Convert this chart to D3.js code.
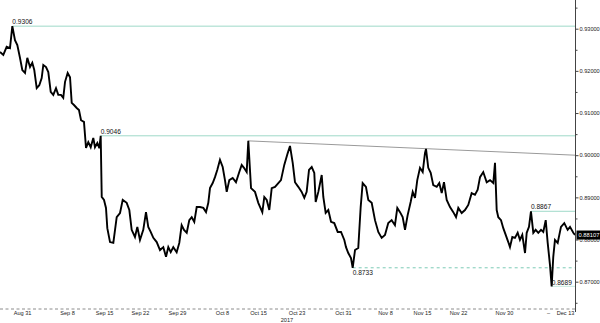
<!DOCTYPE html>
<html>
<head>
<meta charset="utf-8">
<script src="https://cdn.jsdelivr.net/npm/d3@7"></script>
<style>
  html, body { margin: 0; padding: 0; background: #fff; }
  svg { display: block; font-family: "Liberation Sans", Arial, sans-serif; }
</style>
</head>
<body>
<div id="grafico"></div>
<script>
// trading-day position (days since Mon Aug 28) and price
const dias = [
  0.00, 0.45, 0.91, 1.36, 1.68, 2.04, 2.36, 2.72, 3.04, 3.41, 3.72, 4.09, 4.40, 4.67, 5.00, 5.35,
  5.68, 5.90, 6.27, 6.58, 6.91, 7.26, 7.63, 7.94, 8.31, 8.62, 8.86, 9.22, 9.54, 9.77, 10.08, 10.45,
  10.76, 11.04, 11.44, 11.72, 12.03, 12.36, 12.71, 12.94, 13.26, 13.53, 13.72, 13.86, 14.17, 14.44,
  14.62, 14.99, 15.44, 15.90, 16.35, 16.72, 17.26, 17.62, 17.94, 18.39, 18.71, 19.07, 19.52, 19.89,
  20.20, 20.53, 20.89, 21.35, 21.80, 22.25, 22.62, 22.93, 23.26, 23.61, 24.07, 24.43, 24.75, 25.07,
  25.44, 25.79, 26.12, 26.47, 26.80, 27.25, 27.70, 28.07, 28.38, 28.61, 28.98, 29.29, 29.60, 29.97,
  30.34, 30.65, 30.89, 31.24, 31.70, 32.15, 32.60, 32.93, 33.24, 33.61, 33.83, 34.20, 34.74, 35.19,
  35.74, 36.01, 36.34, 36.69, 37.02, 37.47, 37.92, 38.28, 38.73, 39.20, 39.51, 39.88, 40.19, 40.64,
  41.10, 41.46, 41.78, 42.10, 42.47, 42.82, 43.01, 43.37, 43.83, 44.05, 44.37, 44.73, 45.10, 45.54,
  46.01, 46.46, 46.91, 47.14, 47.45, 47.82, 48.05, 48.37, 48.81, 49.14, 49.41, 49.86, 50.18, 50.64,
  51.09, 51.54, 52.00, 52.45, 52.90, 53.36, 53.81, 54.13, 54.50, 54.86, 55.18, 55.54, 55.95, 56.23,
  56.54, 56.85, 57.22, 57.59, 57.90, 58.04, 58.35, 58.68, 59.03, 59.50, 59.85, 60.18, 60.49, 60.86,
  61.31, 61.76, 62.13, 62.44, 62.90, 63.35, 63.80, 64.26, 64.71, 65.08, 65.40, 65.84, 66.31, 66.76,
  67.21, 67.44, 67.67, 67.89, 68.26, 68.57, 68.90, 69.25, 69.48, 69.80, 70.16, 70.53, 70.84, 71.16,
  71.53, 71.76, 72.07, 72.34, 72.66, 72.98, 73.34, 73.71, 74.02, 74.35, 74.62, 74.93, 75.16, 75.38,
  75.61, 75.98, 76.43, 76.88, 77.34, 77.66, 78.11, 78.34
];
const precos = [
  0.9245, 0.9238, 0.9257, 0.9254, 0.9306, 0.9273, 0.9261, 0.9231, 0.9202, 0.9195, 0.9231, 0.9209, 0.9219, 0.9202, 0.9159, 0.9166,
  0.9183, 0.9214, 0.9209, 0.9197, 0.9150, 0.9143, 0.9159, 0.9143, 0.9143, 0.9136, 0.9174, 0.9195, 0.9185, 0.9124, 0.9119, 0.9112,
  0.9107, 0.9083, 0.9079, 0.9017, 0.9031, 0.9019, 0.9041, 0.9019, 0.9029, 0.9017, 0.9046, 0.8901, 0.8894, 0.8875,
  0.8827, 0.8794, 0.8792, 0.8853, 0.8863, 0.8894, 0.8887, 0.8870, 0.8823, 0.8806, 0.8830, 0.8799, 0.8823, 0.8865,
  0.8830, 0.8818, 0.8804, 0.8794, 0.8775, 0.8782, 0.8759, 0.8782, 0.8770, 0.8782, 0.8770, 0.8792, 0.8834, 0.8823,
  0.8816, 0.8846, 0.8853, 0.8842, 0.8877, 0.8877, 0.8875, 0.8865, 0.8887, 0.8922, 0.8934, 0.8948, 0.8965, 0.8989,
  0.8972, 0.8941, 0.8913, 0.8941, 0.8946, 0.8936, 0.8960, 0.8977, 0.8970, 0.8960, 0.9034, 0.8922, 0.8913, 0.8887,
  0.8865, 0.8901, 0.8894, 0.8870, 0.8922, 0.8925, 0.8934, 0.8941, 0.8977, 0.9005, 0.9022, 0.8982, 0.8936, 0.8925,
  0.8913, 0.8899, 0.8913, 0.8965, 0.8972, 0.8958, 0.8889, 0.8913, 0.8953, 0.8901, 0.8863, 0.8870, 0.8842, 0.8839,
  0.8818, 0.8818, 0.8799, 0.8782, 0.8768, 0.8756, 0.8733, 0.8775, 0.8780, 0.8877, 0.8934, 0.8925, 0.8894, 0.8887,
  0.8846, 0.8818, 0.8804, 0.8811, 0.8839, 0.8846, 0.8834, 0.8875, 0.8865, 0.8853, 0.8823, 0.8858, 0.8889, 0.8913,
  0.8899, 0.8941, 0.8970, 0.8960, 0.9005, 0.9015, 0.8970, 0.8958, 0.8929, 0.8925, 0.8934, 0.8910, 0.8936, 0.8894,
  0.8877, 0.8865, 0.8853, 0.8875, 0.8863, 0.8870, 0.8882, 0.8910, 0.8906, 0.8918, 0.8948, 0.8960, 0.8936, 0.8941,
  0.8934, 0.8982, 0.8870, 0.8853, 0.8846, 0.8827, 0.8811, 0.8794, 0.8782, 0.8806, 0.8804, 0.8816, 0.8799, 0.8811,
  0.8768, 0.8816, 0.8830, 0.8867, 0.8816, 0.8823, 0.8816, 0.8823, 0.8818, 0.8846, 0.8792, 0.8740, 0.8689, 0.8759,
  0.8799, 0.8792, 0.8830, 0.8839, 0.8823, 0.8830, 0.8816, 0.88107
];

// date labels on the bottom axis
const rotulosDatas = ["Aug 31", "Sep 8", "Sep 15", "Sep 22", "Sep 29", "Oct 8", "Oct 15", "Oct 23",
                      "Oct 31", "Nov 8", "Nov 15", "Nov 22", "Nov 30", "\u2013", "Dec 13"];
const diasDatas = [3.0, 9.13, 14.17, 19.07, 24.11, 30.25, 35.15, 40.4, 46.73, 52.45, 57.49, 62.4, 68.66, 74.66, 76.98];
const rotuloAno = "2017";
const diaAno = 39.1;

// price axis
const ticksPreco = [0.87, 0.88, 0.89, 0.90, 0.91, 0.92, 0.93];
const ticksMenores = [0.865, 0.875, 0.885, 0.895, 0.905, 0.915, 0.925, 0.935];
const ultimoPreco = 0.88107;

// marked highs and lows: value and day where the level starts
const maximos = [0.9306, 0.9046, 0.8867];
const diasMaximos = [1.68, 13.72, 72.34];
const minimos = [0.8733, 0.8689];
const diasMinimos = [48.05, 75.16];

// falling trendline from the October high
const tendenciaDias = [33.83, 78.34];
const tendenciaPrecos = [0.9034, 0.9000];

const largura = 600, altura = 323;
const margem = {top: 0, right: 25, bottom: 15, left: 0};

const svg = d3.select("#grafico").append("svg")
    .attr("width", largura)
    .attr("height", altura);

const eixoX = d3.scaleLinear().domain([0, 78.34]).range([margem.left, largura - margem.right]);
const eixoY = d3.scaleLinear().domain([0.87, 0.93]).range([281.7, 28.7]);
const baseY = altura - margem.bottom + 1;

// level lines for highs
maximos.forEach((v, i) => {
    svg.append("line")
        .attr("x1", eixoX(diasMaximos[i])).attr("x2", eixoX.range()[1])
        .attr("y1", eixoY(v)).attr("y2", eixoY(v))
        .attr("stroke", "#9fd9c8").attr("stroke-width", 1);
    svg.append("text")
        .attr("x", eixoX(diasMaximos[i])).attr("y", eixoY(v) - 2)
        .attr("font-size", 6.6).attr("fill", "#111")
        .text(v.toFixed(4));
});

// lows: first one dashed with label below, second one with label above
minimos.forEach((v, i) => {
    svg.append("line")
        .attr("x1", eixoX(diasMinimos[i])).attr("x2", eixoX.range()[1])
        .attr("y1", eixoY(v)).attr("y2", eixoY(v))
        .attr("stroke", i === 0 ? "#7ccbb6" : "#c4e8de")
        .attr("stroke-width", 1)
        .attr("stroke-dasharray", i === 0 ? "3,3" : null);
    svg.append("text")
        .attr("x", eixoX(diasMinimos[i])).attr("y", i === 0 ? eixoY(v) + 7 : eixoY(v) - 1.5)
        .attr("font-size", 6.6).attr("fill", "#111")
        .text(v.toFixed(4));
});

// trendline
svg.append("line")
    .attr("x1", eixoX(tendenciaDias[0])).attr("x2", eixoX(tendenciaDias[1]))
    .attr("y1", eixoY(tendenciaPrecos[0])).attr("y2", eixoY(tendenciaPrecos[1]))
    .attr("stroke", "#9a9a9a").attr("stroke-width", 1);

// price line
const linha = d3.line()
    .x((d, i) => eixoX(dias[i]))
    .y(d => eixoY(d));

svg.append("path")
    .datum(precos)
    .attr("d", linha)
    .attr("fill", "none")
    .attr("stroke", "#000")
    .attr("stroke-width", 1.9)
    .attr("stroke-linejoin", "miter");

// bottom axis: dashed base line with date labels
svg.append("line")
    .attr("x1", eixoX.range()[0]).attr("x2", eixoX.range()[1])
    .attr("y1", baseY).attr("y2", baseY)
    .attr("stroke", "#8c8c8c").attr("stroke-dasharray", "3,2.5");

const gX = svg.append("g")
    .attr("transform", `translate(0,${baseY})`)
    .call(d3.axisBottom(eixoX).tickValues(diasDatas).tickSize(0).tickPadding(2)
        .tickFormat((d, i) => rotulosDatas[i]));
gX.select(".domain").remove();
gX.selectAll("text").attr("font-size", 5.6).attr("fill", "#222").attr("font-family", null);

svg.append("text")
    .attr("x", eixoX(diaAno)).attr("y", altura - 1)
    .attr("text-anchor", "middle")
    .attr("font-size", 5.6).attr("fill", "#222")
    .text(rotuloAno);

// right price axis
const xEixo = eixoX.range()[1] + 0.5;
svg.append("line")
    .attr("x1", xEixo).attr("x2", xEixo)
    .attr("y1", 0).attr("y2", altura - 11)
    .attr("stroke", "#444").attr("stroke-width", 1);

const gY = svg.append("g")
    .attr("transform", `translate(${xEixo},0)`)
    .call(d3.axisRight(eixoY).tickValues(ticksPreco).tickSize(3).tickPadding(1)
        .tickFormat(d3.format(".5f")));
gY.select(".domain").remove();
gY.selectAll("text").attr("font-size", 5.6).attr("fill", "#222").attr("font-family", null);
gY.selectAll("line").attr("stroke", "#444");

const gYm = svg.append("g")
    .attr("transform", `translate(${xEixo},0)`)
    .call(d3.axisRight(eixoY).tickValues(ticksMenores).tickSize(2).tickFormat(""));
gYm.select(".domain").remove();
gYm.selectAll("line").attr("stroke", "#444");

// last price marker
svg.append("rect")
    .attr("x", xEixo + 1).attr("y", eixoY(ultimoPreco) - 4.5)
    .attr("width", largura - xEixo - 1).attr("height", 9)
    .attr("fill", "#000");
svg.append("text")
    .attr("x", xEixo + 3).attr("y", eixoY(ultimoPreco) + 2)
    .attr("font-size", 5.8).attr("fill", "#fff")
    .text(d3.format(".5f")(ultimoPreco));
</script>
</body>
</html>
